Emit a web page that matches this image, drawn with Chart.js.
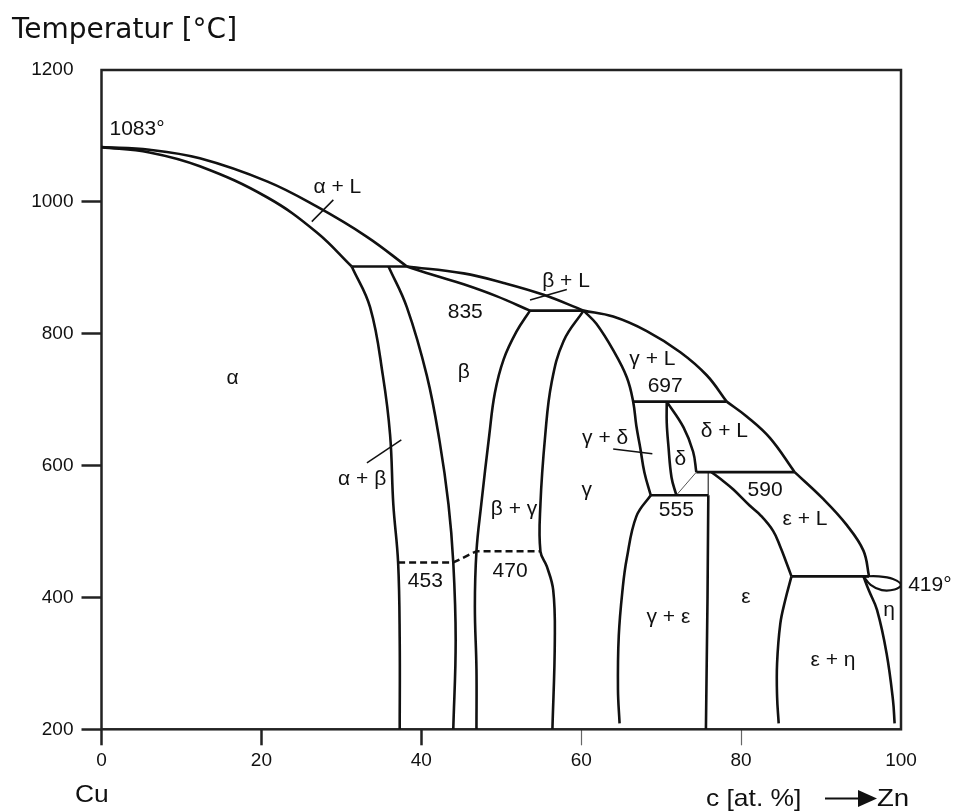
<!DOCTYPE html>
<html>
<head>
<meta charset="utf-8">
<script src="https://cdn.jsdelivr.net/npm/chart.js@4.4.0/dist/chart.umd.min.js"></script>
<style>
  html, body { margin: 0; padding: 0; background: #fff; }
  #wrap { width: 962px; height: 811px; position: relative; }
</style>
</head>
<body>
<div id="wrap"><canvas id="c" width="962" height="811"></canvas></div>
<script>
// Cu–Zn phase diagram: composition in at.% Zn (x), temperature in °C (y)
const xTicks = [0, 20, 40, 60, 80, 100];
const yTicks = [200, 400, 600, 800, 1000, 1200];

// liquidus, from pure Cu to pure Zn
const liquidusAlpha = [[0,1083],[6,1079],[12.3,1066],[20.7,1031],[26.9,993],[33.2,947],[38.2,902]];
const liquidusBeta  = [[38.2,902],[45.3,891.5],[50.3,877],[55.3,859],[60.3,835]];
const liquidusGamma = [[60.3,835],[64.0,826],[68.2,804],[72.4,772],[75.7,737],[78.2,697]];
const liquidusDelta = [[78.2,697],[80.7,674.5],[83.6,642],[86.7,590]];
const liquidusEps   = [[86.7,590],[90.3,549],[93.2,510],[95.3,471],[96.0,432]];

// solidus lines
const solidusAlpha = [[0,1083],[6,1075],[12.3,1054],[20.7,1007],[26.9,954],[31.3,902]];
const solidusBeta  = [[38.2,902],[41.5,889],[45.3,875],[49.4,857],[53.6,835]];

// invariant horizontals
const line902 = [[31.3,902],[38.2,902]];
const line835 = [[53.6,835],[60.3,835]];
const line697 = [[66.5,697],[78.2,697]];
const line590 = [[74.4,590],[86.7,590]];
const line555 = [[68.7,555],[75.9,555]];
const lineEutectic = [[86.3,432],[96.0,432]];
// beta ordering (dashed)
const orderingLine = [[37.1,453],[44.0,453],[46.9,470],[54.9,470]];

// phase boundaries
const alphaSolvus = [[31.3,902],[33.6,840],[35.2,736],[36.1,646],[36.5,541],[37.1,453],[37.3,335],[37.3,200]];
const betaLeft    = [[35.9,902],[38.2,840],[40.7,736],[42.3,636],[43.4,541],[44.0,453],[44.3,335],[44.0,200]];
const betaRight   = [[53.6,835],[51.9,803],[50.3,761],[49.2,710],[48.5,646],[47.5,541],[46.9,470],[46.7,386],[46.9,291],[46.9,200]];
const gammaLeft   = [[60.3,835],[57.8,789],[56.3,726],[55.5,646],[54.9,541],[54.9,470],[55.7,447],[56.5,411],[56.7,335],[56.4,200]];
const gammaRight  = [[60.3,835],[61.9,815],[64.0,775],[65.7,734],[66.5,697],[66.9,660],[67.4,626],[67.9,590],[68.7,555]];
const gammaEps    = [[68.7,555],[66.9,523],[65.7,459],[65.2,415],[64.7,342],[64.6,260],[64.8,209]];
const deltaLeft   = [[70.7,697],[70.7,665],[70.9,631],[71.3,582],[71.9,555]];
const deltaRight  = [[70.7,697],[72.8,658],[74.0,621],[74.4,590]];
const deltaLower  = [[74.4,590],[71.9,555]];
const epsLeftUpper = [[75.9,590],[75.9,555]];
const epsLeft     = [[75.9,555],[75.8,400],[75.6,200]];
const epsSolidus  = [[76.3,590],[77.6,578],[79.0,564],[81.1,539],[82.4,525],[84.0,501],[84.9,477],[85.6,455],[86.3,432]];
const epsRight    = [[86.3,432],[85.5,395],[84.9,360],[84.5,300],[84.5,250],[84.7,209]];
const etaLens     = [[95.3,432],[97.2,432],[99.0,428],[100,419],[99.2,412],[97.6,411],[96.2,419],[95.3,432]];
const etaSolvus   = [[95.3,432],[96.0,410],[97.0,381],[98.2,315],[99.0,244],[99.2,209]];

// short leader strokes tying labels to narrow fields
const leaderAlphaL    = [[26.3,970],[29.0,1003]];
const leaderBetaL     = [[53.6,851],[58.2,867]];
const leaderAlphaBeta = [[33.2,604],[37.5,639]];
const leaderGammaDelta = [[64.0,625],[68.9,618]];

// field and temperature labels
const phaseLabels = [
  { text: '1083°', x: 1,    y: 1110, align: 'left' },
  { text: 'α + L', x: 29.5, y: 1022 },
  { text: 'β + L', x: 58.1, y: 880 },
  { text: '835',   x: 45.5, y: 832 },
  { text: 'α',     x: 16.4, y: 733 },
  { text: 'β',     x: 45.3, y: 742 },
  { text: 'α + β', x: 32.6, y: 580 },
  { text: '453',   x: 40.5, y: 424 },
  { text: '470',   x: 51.1, y: 440 },
  { text: 'β + γ', x: 51.6, y: 534 },
  { text: 'γ',     x: 60.7, y: 563 },
  { text: 'γ + δ', x: 63.0, y: 641 },
  { text: 'γ + L', x: 68.9, y: 762 },
  { text: '697',   x: 70.5, y: 721 },
  { text: 'δ + L', x: 77.9, y: 652 },
  { text: 'δ',     x: 72.4, y: 610 },
  { text: '590',   x: 83.0, y: 563 },
  { text: '555',   x: 71.9, y: 532 },
  { text: 'ε + L', x: 88.0, y: 518 },
  { text: '419°',  x: 100.9, y: 419, align: 'left' },
  { text: 'ε',     x: 80.6, y: 400 },
  { text: 'γ + ε', x: 70.9, y: 370 },
  { text: 'η',     x: 98.5, y: 380 },
  { text: 'ε + η', x: 91.5, y: 305 }
];

const INK = '#111';
const toXY = pts => pts.map(([x, y]) => ({ x, y }));
function curve(pts, opts = {}) {
  return Object.assign({
    data: toXY(pts), showLine: true, pointRadius: 0, borderColor: INK,
    borderWidth: 2.6, tension: 0.4, fill: false, borderJoinStyle: 'round'
  }, opts);
}
const straight = { tension: 0 };
const thin = { borderWidth: 1, borderColor: '#555', tension: 0 };
const leader = { borderWidth: 1.5, tension: 0 };

const datasets = [
  curve(liquidusAlpha), curve(liquidusBeta), curve(liquidusGamma), curve(liquidusDelta), curve(liquidusEps),
  curve(solidusAlpha), curve(solidusBeta),
  curve(line902, straight), curve(line835, straight), curve(line697, straight),
  curve(line590, straight), curve(line555, straight), curve(lineEutectic, straight),
  curve(orderingLine, { tension: 0, borderDash: [7, 4], borderWidth: 2.5 }),
  curve(alphaSolvus), curve(betaLeft), curve(betaRight), curve(gammaLeft), curve(gammaRight),
  curve(gammaEps), curve(deltaLeft), curve(deltaRight), curve(deltaLower, thin),
  curve(epsLeftUpper, thin), curve(epsLeft, straight), curve(epsSolidus), curve(epsRight),
  curve(etaLens, { tension: 0.35, borderWidth: 2.2 }), curve(etaSolvus),
  curve(leaderAlphaL, leader), curve(leaderBetaL, leader),
  curve(leaderAlphaBeta, leader), curve(leaderGammaDelta, leader)
];

const annotate = {
  id: 'annotate',
  beforeDatasetsDraw(chart) {
    const { ctx, chartArea: a } = chart;
    ctx.save();
    ctx.strokeStyle = '#222';
    ctx.lineWidth = 2.5;
    ctx.strokeRect(a.left, a.top, a.right - a.left, a.bottom - a.top);
    ctx.restore();
  },
  afterDraw(chart) {
    const { ctx, scales: { x, y } } = chart;
    ctx.save();
    ctx.fillStyle = INK;
    ctx.textBaseline = 'middle';
    ctx.font = '21px "Liberation Sans", Arial, sans-serif';
    for (const L of phaseLabels) {
      ctx.textAlign = L.align || 'center';
      ctx.fillText(L.text, x.getPixelForValue(L.x), y.getPixelForValue(L.y));
    }
    // axis captions
    ctx.textBaseline = 'alphabetic';
    ctx.textAlign = 'left';
    ctx.font = '28px "DejaVu Sans", Verdana, sans-serif';
    ctx.fillText('Temperatur [°C]', 12, 38);

    ctx.font = '24px "Liberation Sans", Arial, sans-serif';
    ctx.save(); ctx.translate(75, 802); ctx.scale(1.1, 1); ctx.fillText('Cu', 0, 0); ctx.restore();
    ctx.save(); ctx.translate(706, 806); ctx.scale(1.1, 1); ctx.fillText('c [at. %]', 0, 0); ctx.restore();
    ctx.save(); ctx.translate(877, 806); ctx.scale(1.15, 1); ctx.fillText('Zn', 0, 0); ctx.restore();

    // arrow toward Zn
    ctx.strokeStyle = INK;
    ctx.lineWidth = 2;
    ctx.beginPath(); ctx.moveTo(825, 798.5); ctx.lineTo(860, 798.5); ctx.stroke();
    ctx.beginPath(); ctx.moveTo(858, 790); ctx.lineTo(877, 798.5); ctx.lineTo(858, 807); ctx.closePath(); ctx.fill();
    ctx.restore();
  }
};

const tickFont = { family: '"Liberation Sans", Arial, sans-serif', size: 19 };

new Chart(document.getElementById('c'), {
  type: 'scatter',
  data: { datasets },
  options: {
    responsive: false,
    devicePixelRatio: 1,
    animation: false,
    events: [],
    layout: { padding: { left: 0, right: 61, top: 70, bottom: 0 } },
    plugins: { legend: { display: false }, tooltip: { enabled: false }, title: { display: false } },
    scales: {
      x: {
        type: 'linear', min: 0, max: 100, position: 'bottom',
        afterBuildTicks: s => { s.ticks = xTicks.map(v => ({ value: v })); },
        afterFit: s => { s.height = 81.7; },
        ticks: { font: tickFont, color: INK, padding: 4, maxRotation: 0, autoSkip: false, callback: v => String(v) },
        grid: {
          drawOnChartArea: false, drawTicks: true, tickLength: 16,
          tickWidth: c => (c.tick && (c.tick.value === 60 || c.tick.value === 80)) ? 1.2 : 2.5,
          tickColor: c => (c.tick && c.tick.value === 100) ? 'rgba(0,0,0,0)' :
                          (c.tick && (c.tick.value === 60 || c.tick.value === 80)) ? '#666' : '#222'
        },
        border: { display: false }
      },
      y: {
        type: 'linear', min: 200, max: 1200, position: 'left',
        afterBuildTicks: s => { s.ticks = yTicks.map(v => ({ value: v })); },
        afterFit: s => { s.width = 101.5; },
        ticks: { font: tickFont, color: INK, padding: 8, autoSkip: false, callback: v => String(v) },
        grid: {
          drawOnChartArea: false, drawTicks: true, tickLength: 20, tickWidth: 2.5,
          tickColor: c => (c.tick && c.tick.value === 1200) ? 'rgba(0,0,0,0)' : '#222'
        },
        border: { display: false }
      }
    }
  },
  plugins: [annotate]
});
</script>
</body>
</html>
